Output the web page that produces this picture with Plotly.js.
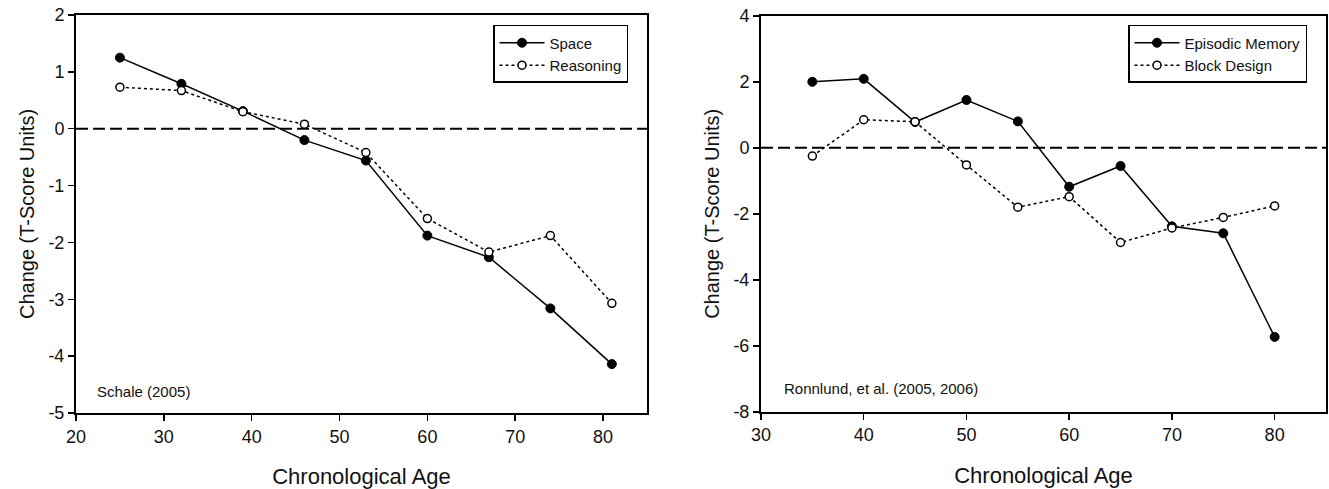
<!DOCTYPE html>
<html>
<head>
<meta charset="utf-8">
<script src="https://cdn.plot.ly/plotly-3.0.1.min.js"></script>
<style>html,body{margin:0;padding:0;background:#fff}#chart{width:1329px;height:489px}</style>
</head>
<body>
<div id="chart"></div>
<script>
// Left panel: Schaie (2005)
const ageSchaie = [25, 32, 39, 46, 53, 60, 67, 74, 81];
const space = [1.25, 0.79, 0.31, -0.2, -0.56, -1.88, -2.26, -3.16, -4.14];
const reasoning = [0.73, 0.67, 0.3, 0.08, -0.42, -1.58, -2.17, -1.88, -3.07];

// Right panel: Ronnlund et al. (2005, 2006)
const ageRonnlund = [35, 40, 45, 50, 55, 60, 65, 70, 75, 80];
const episodicMemory = [2.0, 2.09, 0.78, 1.45, 0.8, -1.18, -0.55, -2.38, -2.59, -5.73];
const blockDesign = [-0.25, 0.85, 0.79, -0.52, -1.8, -1.48, -2.87, -2.43, -2.11, -1.76];

const leftTicksX = [20, 30, 40, 50, 60, 70, 80];
const leftTicksY = [2, 1, 0, -1, -2, -3, -4, -5];
const rightTicksX = [30, 40, 50, 60, 70, 80];
const rightTicksY = [4, 2, 0, -2, -4, -6, -8];

const FONT = 'Liberation Sans, Arial, sans-serif';
const INK = '#111';

const filled = {symbol: 'circle', size: 9, color: '#000', line: {color: '#000', width: 1}};
const open = {symbol: 'circle', size: 8, color: '#fff', line: {color: '#000', width: 1.5}};

const traces = [
  {x: ageSchaie, y: space, name: 'Space', mode: 'lines+markers', xaxis: 'x', yaxis: 'y',
   line: {color: '#000', width: 1.5}, marker: filled, legend: 'legend'},
  {x: ageSchaie, y: reasoning, name: 'Reasoning', mode: 'lines+markers', xaxis: 'x', yaxis: 'y',
   line: {color: '#000', width: 1.5, dash: 'dot'}, marker: open, legend: 'legend'},
  {x: ageRonnlund, y: episodicMemory, name: 'Episodic Memory', mode: 'lines+markers', xaxis: 'x2', yaxis: 'y2',
   line: {color: '#000', width: 1.5}, marker: filled, legend: 'legend2'},
  {x: ageRonnlund, y: blockDesign, name: 'Block Design', mode: 'lines+markers', xaxis: 'x2', yaxis: 'y2',
   line: {color: '#000', width: 1.5, dash: 'dot'}, marker: open, legend: 'legend2'}
];

function xAxis(domain, range, ticks, anchor) {
  return {
    domain: domain, range: range, anchor: anchor,
    tickvals: ticks, ticktext: ticks.map(String),
    showgrid: false, zeroline: false,
    showline: true, linecolor: '#000', linewidth: 2, mirror: true,
    ticks: 'outside', ticklen: 6, tickwidth: 1.5, tickcolor: '#000',
    tickfont: {family: FONT, size: 18, color: INK},
    title: {text: 'Chronological Age', font: {family: FONT, size: 22, color: INK}, standoff: 23},
    automargin: false
  };
}
function yAxis(domain, range, ticks, anchor) {
  return {
    domain: domain, range: range, anchor: anchor,
    tickvals: ticks, ticktext: ticks.map(String),
    showgrid: false, zeroline: false,
    showline: true, linecolor: '#000', linewidth: 2, mirror: true,
    ticks: 'outside', ticklen: 6, tickwidth: 1.5, tickcolor: '#000',
    tickfont: {family: FONT, size: 18, color: INK},
    title: {text: 'Change (T-Score Units)', font: {family: FONT, size: 20, color: INK}, standoff: 8},
    automargin: false
  };
}

const legendBase = {
  font: {family: FONT, size: 15, color: INK},
  bgcolor: '#fff', bordercolor: '#000', borderwidth: 1.5,
  xanchor: 'left', yanchor: 'top', tracegroupgap: 0,
  itemwidth: 45,
  entrywidth: 142, entrywidthmode: 'pixels'
};

const layout = {
  width: 1329, height: 489,
  margin: {l: 76, r: 3, t: 15, b: 76},
  paper_bgcolor: '#fff', plot_bgcolor: '#fff',
  font: {family: FONT, color: INK},
  xaxis: xAxis([0, 0.4568], [20, 85], leftTicksX, 'y'),
  yaxis: yAxis([0, 1], [-5, 2], leftTicksY, 'x'),
  xaxis2: xAxis([0.548, 1], [30, 85], rightTicksX, 'y2'),
  yaxis2: yAxis([0.003, 0.998], [-8, 4], rightTicksY, 'x2'),
  legend: Object.assign({}, legendBase, {x: 0.3336, y: 0.975}),
  legend2: Object.assign({}, legendBase, {x: 0.8416, y: 0.975, entrywidth: 177}),
  shapes: [
    {type: 'line', xref: 'x domain', yref: 'y', x0: 0, x1: 1, y0: 0, y1: 0,
     line: {color: '#000', width: 2, dash: '12px,5px'}, layer: 'below'},
    {type: 'line', xref: 'x2 domain', yref: 'y2', x0: 0, x1: 1, y0: 0, y1: 0,
     line: {color: '#000', width: 2, dash: '12px,5px'}, layer: 'below'}
  ],
  annotations: [
    {text: 'Schale (2005)', xref: 'x domain', yref: 'y domain', x: 0.033, y: 0.053,
     xanchor: 'left', yanchor: 'middle', showarrow: false,
     font: {family: FONT, size: 15, color: INK}},
    {text: 'Ronnlund, et al. (2005, 2006)', xref: 'x2 domain', yref: 'y2 domain', x: 0.037, y: 0.06,
     xanchor: 'left', yanchor: 'middle', showarrow: false,
     font: {family: FONT, size: 15, color: INK}}
  ],
  showlegend: true
};

Plotly.newPlot('chart', traces, layout, {displayModeBar: false, staticPlot: true});
</script>
</body>
</html>
